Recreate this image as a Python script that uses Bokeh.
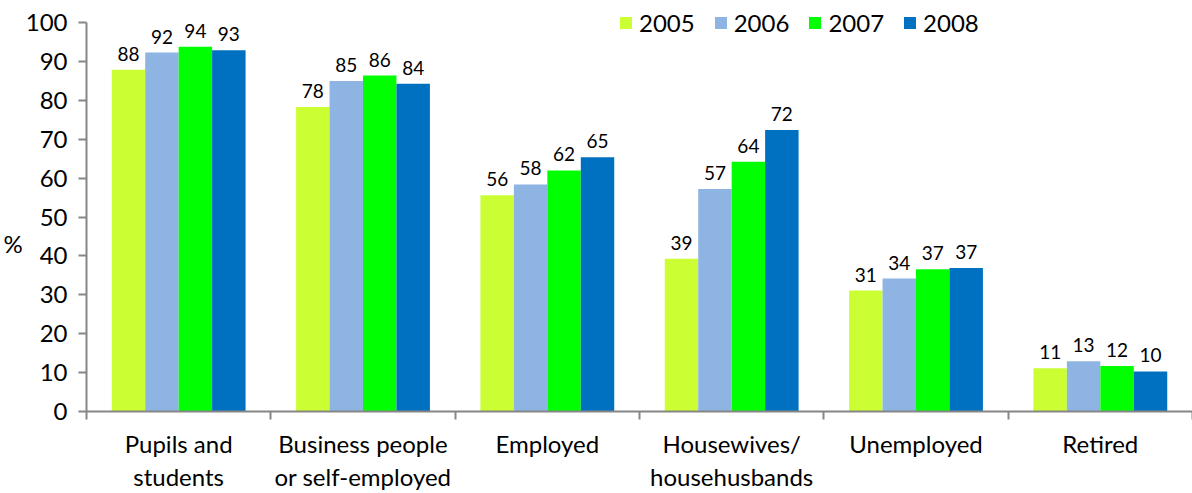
from bokeh.plotting import figure
from bokeh.models import FixedTicker, LinearAxis, Range1d, Legend, LegendItem, ColumnDataSource
from bokeh.embed import file_html
from bokeh.resources import INLINE
from bokeh.core.properties import value

# ---- data ----
cat_line1 = ["Pupils and", "Business people", "Employed", "Housewives/", "Unemployed", "Retired"]
cat_line2 = ["students", "or self-employed", "", "househusbands", "", ""]
years = ["2005", "2006", "2007", "2008"]
v2005 = [87.9, 78.3, 55.6, 39.3, 31.1, 11.1]
v2006 = [92.3, 85.0, 58.4, 57.2, 34.2, 12.9]
v2007 = [93.8, 86.4, 62.0, 64.2, 36.6, 11.7]
v2008 = [92.9, 84.3, 65.4, 72.4, 36.9, 10.3]
series = [v2005, v2006, v2007, v2008]
colors = ["#CCFF33", "#8EB4E3", "#00FF00", "#0070C0"]
y_ticks = [0, 10, 20, 30, 40, 50, 60, 70, 80, 90, 100]

FONT = "Lato"
AXIS_COL = "#868686"
BIG = "24px"

n = len(cat_line1)
p = figure(width=1192, height=493, x_range=Range1d(0, n), y_range=Range1d(0, 104.4),
           output_backend="svg", toolbar_location=None, x_axis_location=None,
           min_border_left=86, min_border_right=0, min_border_top=5, min_border_bottom=82)
p.outline_line_color = None
p.xgrid.visible = False
p.ygrid.visible = False
p.background_fill_color = "white"

bar_w = 0.1815
renderers = []
for j, (yr, vals, col) in enumerate(zip(years, series, colors)):
    xs = [i + 0.5 + (j - 1.5) * bar_w for i in range(n)]
    src = ColumnDataSource(dict(x=xs, top=vals, lab=[str(round(v)) for v in vals]))
    r = p.vbar(x="x", top="top", width=bar_w, source=src, fill_color=col, line_color=None)
    renderers.append(r)
    p.text(x="x", y="top", text="lab", source=src, text_align="center", text_baseline="bottom",
           y_offset=-9, text_font=value(FONT), text_font_size="19px", text_color="black")

# y axis
ya = p.yaxis[0]
ya.ticker = FixedTicker(ticks=y_ticks)
ya.bounds = (0, 100)
ya.axis_line_color = AXIS_COL
ya.axis_line_width = 2
ya.major_tick_line_color = AXIS_COL
ya.major_tick_line_width = 2
ya.major_tick_out = 8
ya.major_tick_in = 0
ya.minor_tick_line_color = None
ya.major_label_text_font = FONT
ya.major_label_text_font_size = BIG
ya.major_label_text_color = "black"
ya.major_label_standoff = 11
ya.axis_label = "\n\n%"
ya.axis_label_orientation = "horizontal"
ya.axis_label_standoff = 0
ya.axis_label_text_font = FONT
ya.axis_label_text_font_style = "normal"
ya.axis_label_text_font_size = BIG
ya.axis_label_text_color = "black"

centers = [i + 0.5 for i in range(n)]
bounds_ticks = list(range(n + 1))

xa1 = LinearAxis(ticker=FixedTicker(ticks=centers, minor_ticks=bounds_ticks))
xa1.major_label_overrides = {c: t for c, t in zip(centers, cat_line1)}
xa1.axis_line_color = AXIS_COL
xa1.axis_line_width = 2
xa1.major_tick_line_color = None
xa1.major_tick_out = 0
xa1.major_tick_in = 0
xa1.minor_tick_line_color = AXIS_COL
xa1.minor_tick_line_width = 2
xa1.minor_tick_out = 8
xa1.minor_tick_in = 0
xa1.major_label_text_font = FONT
xa1.major_label_text_font_size = BIG
xa1.major_label_text_color = "black"
xa1.major_label_standoff = 9
p.add_layout(xa1, "below")

xa2 = LinearAxis(ticker=FixedTicker(ticks=centers))
xa2.major_label_overrides = {c: t for c, t in zip(centers, cat_line2)}
xa2.axis_line_color = None
xa2.major_tick_line_color = None
xa2.minor_tick_line_color = None
xa2.major_tick_out = 0
xa2.major_tick_in = 0
xa2.major_label_text_font = FONT
xa2.major_label_text_font_size = BIG
xa2.major_label_text_color = "black"
xa2.major_label_standoff = 1
p.add_layout(xa2, "below")

legend = Legend(items=[LegendItem(label=y, renderers=[r]) for y, r in zip(years, renderers)],
                orientation="horizontal", location=(532, 374))
legend.glyph_width = 15
legend.glyph_height = 15
legend.label_text_font = FONT
legend.label_text_font_size = BIG
legend.label_text_color = "black"
legend.label_standoff = 6
legend.spacing = 18
legend.padding = 0
legend.margin = 0
legend.border_line_color = None
legend.background_fill_alpha = 0
p.add_layout(legend, "center")

open("out.html", "w").write(file_html(p, INLINE))
